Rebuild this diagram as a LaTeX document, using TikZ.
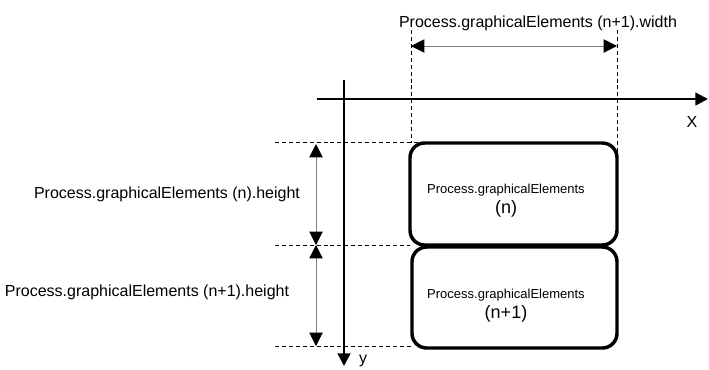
\documentclass[tikz,border=0pt]{standalone}
\usepackage{fontspec}
\setmainfont{Liberation Sans}
\usetikzlibrary{arrows.meta,positioning}

\tikzset{
  elem/.style={draw,line width=2.6pt,rounded corners=11pt,inner sep=0pt},
  axis/.style={line width=1.9pt,-{Triangle[length=9.5pt,width=9.5pt]}},
  guide/.style={line width=0.75pt,dash pattern=on 3pt off 2.2pt},
  dimline/.style={gray,line width=0.75pt,{Triangle[length=10pt,width=10pt,black]}-{Triangle[length=10pt,width=10pt,black]}},
  biglabel/.style={font=\fontsize{12}{14}\selectfont,inner sep=0pt},
  boxlabel/.style={font=\fontsize{9.75}{15}\selectfont,align=center,inner sep=0pt}
}

\begin{document}
\begin{tikzpicture}[x=0.75pt,y=-0.75pt]
  \useasboundingbox (0,0) rectangle (709,369);
  % guide lines
  \coordinate (gTop) at (275,142);
  \coordinate (gMid) at (275,245);
  \coordinate (gBot) at (275,346);
  \coordinate (wL) at (411,30);
  \coordinate (wR) at (617,30);
  \draw[guide] (gTop) -- (513,142);
  \draw[guide] (gMid) -- (410,245);
  \draw[guide] (gBot) -- (412,346);
  \draw[guide] (wL) -- (411,143);
  \draw[guide] (wR) -- (617,193);
  % axes
  \coordinate (xS) at (317,99);
  \coordinate (xE) at (708,99);
  \coordinate (yS) at (344,80);
  \coordinate (yE) at (344,366);
  \draw[axis] (xS) -- (xE);
  \draw[axis] (yS) -- (yE);
  \node[biglabel,anchor=base] (xlab) at (692,127) {X};
  \node[biglabel,anchor=base] (ylab) at (363,363) {y};
  % elements
  \node[elem,minimum width=155.25pt,minimum height=76.5pt] (boxN) at (513.5,194) {};
  \node[elem,minimum width=153.75pt,minimum height=75.75pt] (boxNN) at (514.5,297.5) {};
  \node[boxlabel] (txtN) at (506,201) {Process.graphicalElements\\{\fontsize{13.5}{15}\selectfont (n)}};
  \node[boxlabel] (txtNN) at (506,306) {Process.graphicalElements\\{\fontsize{13.5}{15}\selectfont (n+1)}};
  % dimensions
  \coordinate (wA) at (411,46);
  \coordinate (wB) at (617,46);
  \draw[dimline] (wA) -- (wB);
  \node[biglabel,anchor=base] (wlab) at (538,27) {Process.graphicalElements (n+1).width};
  \coordinate (hA) at (316,144);
  \coordinate (hB) at (316,245);
  \coordinate (hC) at (316,346);
  \draw[dimline] (hA) -- (hB);
  \draw[dimline] (hB) -- (hC);
  \node[biglabel,anchor=base] (hlabN) at (167,198) {Process.graphicalElements (n).height};
  \node[biglabel,anchor=base] (hlabNN) at (147,296) {Process.graphicalElements (n+1).height};
\end{tikzpicture}
\end{document}
